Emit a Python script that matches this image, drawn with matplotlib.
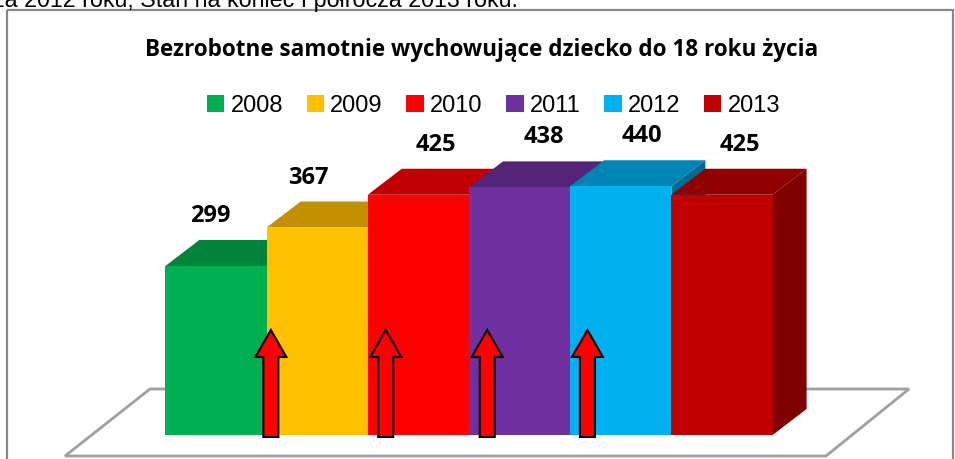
import matplotlib
matplotlib.use('Agg')
import matplotlib.pyplot as plt
from matplotlib.patches import Polygon, Rectangle, FancyArrow, Patch

# Dane
lata = ['2008', '2009', '2010', '2011', '2012', '2013']
wartosci = [299, 367, 425, 438, 440, 425]
kolory_przod = ['#00B050', '#FFC000', '#FF0000', '#7030A0', '#00B0F0', '#C00000']
kolory_gora = ['#00843C', '#C09000', '#C00000', '#542478', '#0084B4', '#900000']
kolory_bok = ['#006030', '#906C00', '#900000', '#3E1A5A', '#006A90', '#7F0000']
tytul = 'Bezrobotne samotnie wychowujące dziecko do 18 roku życia'
naglowek = 'za 2012 roku; Stan na koniec I półrocza 2013 roku.'

# strzałki pomiędzy słupkami (pozycje w jednostkach osi x)
strzalki_x = [0.542, 1.677, 2.68, 3.67]
# przesunięcia etykiet (piksele)
etykiety_dx = [-6, -9, 17, 24, 21, 18]

W, H = 955, 459
fig = plt.figure(figsize=(W / 100, H / 100), dpi=100)

# tło w pikselach (ramka, podłoga, teksty)
bg = fig.add_axes([0, 0, 1, 1])
bg.set_xlim(0, W)
bg.set_ylim(H, 0)
bg.axis('off')
bg.add_patch(Rectangle((7, 10), 946, 470, fill=False, ec='#888888', lw=1.6))
bg.add_patch(Polygon([(150, 389), (909, 389), (826, 456), (65, 456)],
                     closed=True, fc='white', ec='#A0A0A0', lw=2))

# osie danych
px_bar = 101.2       # szerokość słupka w pikselach
px_val = 0.5653      # pikseli na jednostkę
x0, y0 = 216, 435
ax = fig.add_axes([0, 0, 1, 1])
ax.patch.set_alpha(0)
ax.axis('off')
ax.set_xlim(-x0 / px_bar, (W - x0) / px_bar)
ax.set_ylim(-(H - y0) / px_val, y0 / px_val)

ddx = 34 / px_bar
ddy = 26 / px_val

for i, v in enumerate(wartosci):
    z = 2 + i * 0.1
    l, r = i - 0.5, i + 0.5
    ax.add_patch(Polygon([(r, 0), (r + ddx, ddy), (r + ddx, v + ddy), (r, v)],
                         closed=True, fc=kolory_bok[i], lw=0, zorder=z))
    ax.add_patch(Polygon([(l, v), (r, v), (r + ddx, v + ddy), (l + ddx, v + ddy)],
                         closed=True, fc=kolory_gora[i], lw=0, zorder=z))
    ax.bar(i, v, width=1, color=kolory_przod[i], lw=0, zorder=z + 0.01)
    ax.text(i + etykiety_dx[i] / px_bar, v + ddy + 18 / px_val, str(v),
            ha='center', va='baseline', fontsize=17, fontweight='bold',
            family='Open Sans', color='black', zorder=5)

for xa in strzalki_x:
    y_start = -2 / px_val
    y_end = (y0 - 330) / px_val
    ax.add_patch(FancyArrow(xa, y_start, 0, y_end - y_start, width=15 / px_bar,
                            head_width=31 / px_bar, head_length=27 / px_val,
                            length_includes_head=True, fc='#FF0000', ec='black',
                            lw=1.5, zorder=4))

# tytuł
t = bg.text(482, 56, tytul, ha='center', va='baseline', fontsize=14,
            fontweight='bold', family='Open Sans', color='black')
fig.canvas.draw()
w = t.get_window_extent().width
t.set_fontsize(14 * 677 / w)

# nagłówek ucięty u góry
h = bg.text(518, 7, naglowek, ha='right', va='baseline', fontsize=15,
            family='Liberation Sans', color='black')
fig.canvas.draw()
w = h.get_window_extent().width
h.set_fontsize(15 * 526 / w)

# legenda
uchwyty = [Patch(fc=c, ec='none') for c in kolory_przod]
fig.legend(uchwyty, lata, loc='center', bbox_to_anchor=(493.5 / W, 1 - 106 / H),
           ncol=6, frameon=False, prop={'family': 'Liberation Sans', 'size': 17},
           handlelength=0.74, handleheight=0.74, handletextpad=0.26,
           columnspacing=1.0, borderpad=0, borderaxespad=0)

plt.savefig('out.png', dpi=100)
